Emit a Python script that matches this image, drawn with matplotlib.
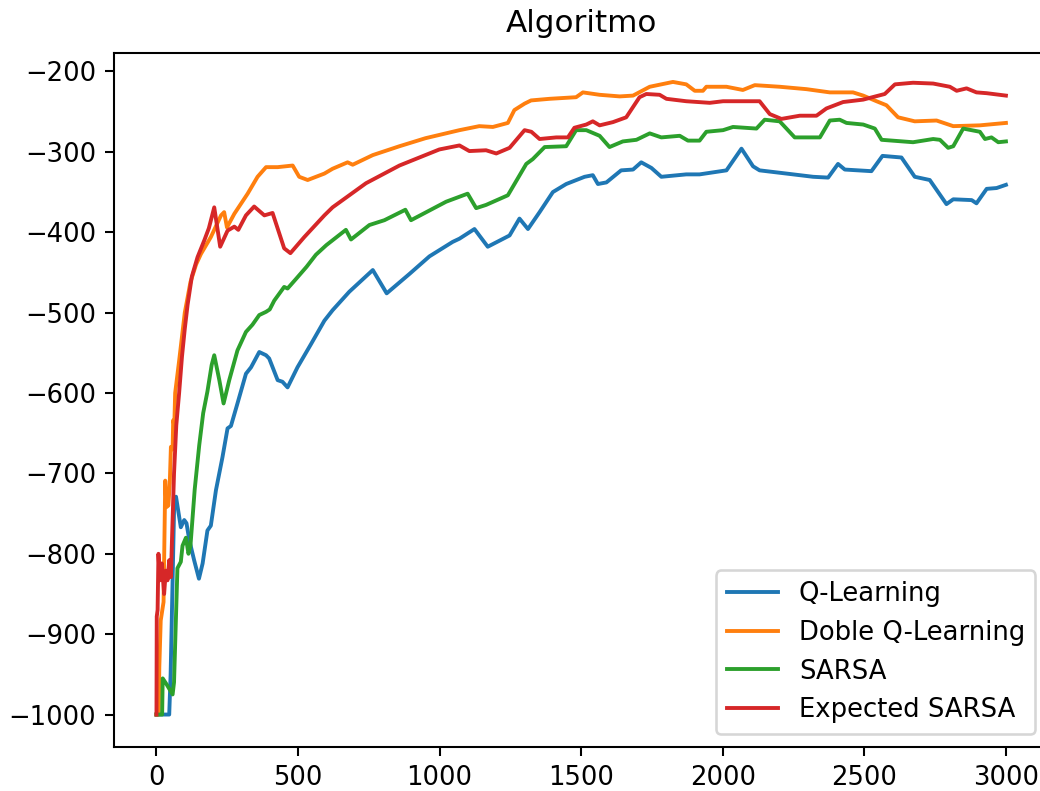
import matplotlib
matplotlib.use("Agg")
import matplotlib.pyplot as plt

DPI = 186

# episodes / mean reward checkpoints for each agent
q_x = [0, 45, 50, 63, 69, 86, 98, 106, 116, 133, 150, 163, 180, 192, 210, 233, 251, 263,
       286, 316, 334, 363, 387, 398, 428, 445, 463, 498, 546, 593, 622, 681, 764, 813, 893,
       964, 1046, 1070, 1123, 1170, 1247, 1282, 1312, 1353, 1400, 1447, 1512, 1541, 1559,
       1589, 1641, 1683, 1712, 1748, 1783, 1871, 1918, 2013, 2066, 2107, 2130, 2225, 2319,
       2372, 2407, 2431, 2525, 2564, 2631, 2678, 2731, 2790, 2814, 2879, 2896, 2932, 2967, 3000]
q_y = [-1000, -1000, -950, -731, -729, -767, -758, -762, -783, -808, -831, -812, -771, -765,
       -721, -680, -644, -641, -613, -576, -568, -549, -553, -557, -584, -586, -593, -568,
       -539, -510, -497, -474, -447, -476, -452, -430, -412, -408, -396, -418, -404, -383,
       -396, -375, -350, -340, -331, -329, -340, -338, -323, -322, -313, -320, -331, -328,
       -328, -323, -296, -318, -323, -327, -331, -332, -315, -322, -324, -305, -307, -331,
       -335, -365, -359, -360, -364, -346, -345, -341]

dq_x = [0, 8, 10, 15, 25, 31, 35, 42, 47, 51, 57, 59, 63, 66, 80, 100, 120, 140, 157, 192,
        228, 239, 249, 275, 322, 357, 387, 428, 481, 504, 534, 593, 622, 675, 693, 764, 858,
        950, 1070, 1140, 1188, 1241, 1264, 1300, 1323, 1388, 1482, 1506, 1565, 1636, 1683,
        1742, 1824, 1871, 1901, 1930, 1942, 2013, 2071, 2113, 2201, 2296, 2378, 2460, 2496,
        2543, 2578, 2619, 2678, 2755, 2814, 2908, 3000]
dq_y = [-1000, -1000, -941, -883, -860, -709, -742, -740, -712, -667, -670, -634, -640,
        -600, -560, -500, -462, -440, -427, -406, -379, -375, -394, -377, -352, -331, -319,
        -319, -317, -331, -335, -327, -321, -313, -316, -304, -293, -283, -273, -268, -269,
        -264, -248, -240, -236, -234, -232, -226, -229, -231, -230, -219, -213, -216, -224,
        -224, -219, -219, -223, -217, -219, -222, -226, -226, -230, -237, -242, -257, -262,
        -261, -268, -267, -264]

sarsa_x = [0, 20, 22, 35, 57, 62, 74, 86, 92, 104, 113, 120, 135, 151, 165, 180, 195, 204,
           222, 237, 257, 286, 316, 339, 363, 387, 400, 416, 451, 463, 493, 530, 563, 600,
           669, 687, 752, 805, 879, 899, 1023, 1099, 1129, 1164, 1241, 1306, 1329, 1371, 1447,
           1482, 1518, 1565, 1600, 1647, 1695, 1742, 1783, 1848, 1877, 1918, 1942, 2001, 2036,
           2119, 2148, 2201, 2254, 2343, 2378, 2413, 2437, 2496, 2537, 2561, 2672, 2743, 2767,
           2796, 2814, 2849, 2908, 2926, 2949, 2973, 3000]
sarsa_y = [-1000, -1000, -955, -962, -975, -960, -818, -810, -790, -780, -800, -790, -720,
           -665, -625, -598, -565, -553, -584, -613, -584, -547, -524, -515, -503, -499, -496,
           -485, -468, -470, -458, -443, -428, -416, -397, -409, -391, -385, -372, -385, -362,
           -352, -370, -366, -354, -315, -309, -294, -293, -273, -273, -280, -294, -287, -285,
           -277, -282, -280, -286, -286, -275, -273, -269, -271, -260, -262, -282, -282, -261,
           -260, -264, -266, -271, -285, -288, -284, -285, -295, -293, -271, -275, -284, -282,
           -288, -287]

esarsa_x = [0, 1, 4, 7, 12, 19, 27, 33, 39, 45, 51, 55, 62, 70, 80, 90, 100, 110, 125, 145,
            169, 185, 204, 225, 251, 275, 289, 316, 345, 381, 410, 451, 473, 522, 593, 622,
            740, 858, 999, 1070, 1105, 1164, 1200, 1247, 1300, 1324, 1353, 1412, 1453, 1476,
            1518, 1541, 1565, 1612, 1659, 1706, 1730, 1777, 1801, 1871, 1954, 2001, 2130, 2166,
            2207, 2272, 2331, 2366, 2425, 2496, 2572, 2608, 2672, 2743, 2802, 2826, 2861, 2896,
            2932, 3000]
esarsa_y = [-1000, -878, -870, -800, -833, -812, -850, -821, -833, -808, -829, -780, -700,
            -640, -600, -555, -520, -490, -455, -431, -410, -395, -369, -418, -398, -393, -397,
            -379, -368, -379, -376, -420, -426, -406, -379, -369, -339, -317, -297, -292, -299,
            -298, -302, -295, -273, -275, -284, -282, -282, -270, -266, -262, -267, -263, -257,
            -232, -228, -229, -234, -237, -239, -237, -237, -253, -259, -255, -255, -246, -238,
            -235, -228, -216, -214, -215, -219, -224, -221, -226, -227, -230]

fig = plt.figure(figsize=(1040 / DPI, 791 / DPI), dpi=DPI)
ax = fig.add_axes([114 / 1040, 44.3 / 791, 934.4 / 1040, 693.7 / 791])

ax.plot(q_x, q_y, label="Q-Learning")
ax.plot(dq_x, dq_y, label="Doble Q-Learning")
ax.plot(sarsa_x, sarsa_y, label="SARSA")
ax.plot(esarsa_x, esarsa_y, label="Expected SARSA")

ax.set_xlim(-150, 3150)
ax.set_ylim(-1040, -177)
ax.set_title("Algoritmo", pad=8)
ax.legend(loc="lower right")

fig.savefig("out.png", dpi=DPI)
